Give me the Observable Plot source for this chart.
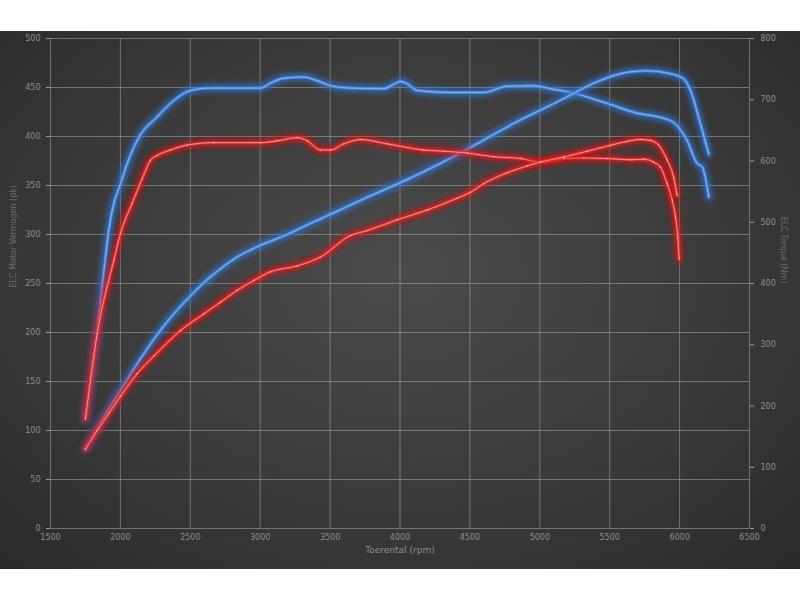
<!DOCTYPE html>
<html><head><meta charset="utf-8">
<script src="https://cdn.jsdelivr.net/npm/d3@7"></script>
<script src="https://cdn.jsdelivr.net/npm/@observablehq/plot@0.6"></script>
<style>
body{margin:0;background:#fff;width:800px;height:600px;overflow:hidden;font-family:"DejaVu Sans",sans-serif}
#wrap{position:absolute;top:31px;left:0;width:800px;height:538px;background:radial-gradient(ellipse 70% 75% at 50% 45%, #4b4b4b 0%, #3b3b3b 55%, #2b2b2b 100%)}
</style></head><body><div id="wrap"></div>
<script>
// Blue torque curve, Nm (right axis)
const blueTorqueRpm = [1750,1834,1893,1917,1941,2001,2072,2144,2263,2358,2501,2645,3002,3073,3167,3310,3408,3503,3646,3882,3954,4004,4052,4123,4361,4597,4767,4955,5077,5220,5482,5697,5865,5957,6054,6126,6162,6209];
const blueTorqueNm  = [179,323,443,487,519,563,610,643,672,694,715,719,719,727,735,737,731,723,719,718,725,730,726,715,712,712,722,723,718,712,694,678,671,663,633,596,590,541];
// Blue power curve, pk (left axis)
const bluePowerRpm = [1750,1900,2001,2120,2239,2358,2478,2597,2716,2835,3002,3193,3310,3524,3765,4004,4240,4481,4719,4862,5005,5148,5268,5411,5527,5650,5768,5935,6028,6078,6149,6209];
const bluePowerPk  = [81,118,141,168,193,215,234,251,265,277,289,300,308,322,338,353,369,387,406,417,427,437,446,456,462,466,467,464,459,447,413,382];
// Red torque curve, Nm (right axis)
const redTorqueRpm = [1750,1834,1953,2001,2084,2156,2215,2263,2358,2478,2668,3002,3122,3265,3336,3431,3503,3598,3717,3908,4170,4313,4481,4671,4862,5005,5172,5315,5482,5649,5744,5815,5863,5911,5947,5971,5987,5997];
const redTorqueNm  = [179,318,438,482,531,571,601,609,618,626,630,630,633,638,633,618,618,628,635,628,618,616,613,607,604,598,604,605,604,602,603,598,590,563,536,508,476,440];
// Red power curve, pk (left axis)
const redPowerRpm = [1750,1834,1920,2001,2120,2239,2430,2597,2716,2835,2954,3074,3265,3431,3646,3765,3980,4195,4409,4504,4600,4767,4910,5005,5172,5339,5506,5625,5720,5792,5851,5911,5958,5982];
const redPowerPk  = [81,100,118,135,158,176,202,219,231,243,253,262,268,277,299,304,315,325,337,343,352,363,370,374,379,385,391,395,397,396,391,376,358,340];

const xTicks = [1500,2000,2500,3000,3500,4000,4500,5000,5500,6000,6500];
const leftTicks = [0,50,100,150,200,250,300,350,400,450,500];
const rightTicks = [0,100,200,300,400,500,600,700,800];

const k = 500 / 800; // right-axis (Nm) to left-axis (pk) domain
const rows = (xs, ys, f) => xs.map((x, i) => ({rpm: x, y: ys[i] * f}));
const blueTorque = rows(blueTorqueRpm, blueTorqueNm, k);
const bluePower = rows(bluePowerRpm, bluePowerPk, 1);
const redTorque = rows(redTorqueRpm, redTorqueNm, k);
const redPower = rows(redPowerRpm, redPowerPk, 1);

function glowLines(data, glow, mid, core) {
  return [
    Plot.line(data, {x: "rpm", y: "y", curve: "monotone-x", stroke: glow, strokeWidth: 8, strokeOpacity: 0.7}),
    Plot.line(data, {x: "rpm", y: "y", curve: "monotone-x", stroke: mid, strokeWidth: 3, strokeOpacity: 0.85}),
    Plot.line(data, {x: "rpm", y: "y", curve: "monotone-x", stroke: core, strokeWidth: 1, strokeOpacity: 0.85})
  ];
}

const chart = Plot.plot({
  width: 800, height: 538,
  marginTop: 7, marginBottom: 41, marginLeft: 50, marginRight: 51,
  style: {background: "transparent", color: "#8e8e8e", fontSize: "8px", fontFamily: "DejaVu Sans, sans-serif"},
  x: {domain: [1500, 6500]},
  y: {domain: [0, 500]},
  marks: [
    Plot.gridX(xTicks, {stroke: "#a8a8a8", strokeOpacity: 0.55}),
    Plot.gridY(leftTicks, {stroke: "#a8a8a8", strokeOpacity: 0.55}),
    Plot.axisY(leftTicks, {anchor: "left", tickSize: 4, tickPadding: 6, label: null, stroke: "#a0a0a0"}),
    Plot.axisY(rightTicks.map(v => v * k), {anchor: "right", tickSize: 4, tickPadding: 7, label: null, stroke: "#a0a0a0", tickFormat: v => String(Math.round(v / k))}),
    Plot.axisX(xTicks, {anchor: "bottom", tickSize: 0, tickPadding: 6, label: null, tickFormat: d3.format("d")}),
    ...glowLines(blueTorque, "#2e74d6", "#4a8ee2", "#8cbaf2"),
    ...glowLines(bluePower, "#2e74d6", "#4a8ee2", "#8cbaf2"),
    ...glowLines(redTorque, "#e01010", "#e83030", "#ffa0a0"),
    ...glowLines(redPower, "#e01010", "#e83030", "#ffa0a0"),
    Plot.dot(redTorque, {x: "rpm", y: "y", r: 0.8, fill: "#ffd0d0", fillOpacity: 0.7}),
    Plot.dot(redPower, {x: "rpm", y: "y", r: 0.8, fill: "#ffd0d0", fillOpacity: 0.7}),
    Plot.text(["Toerental (rpm)"], {frameAnchor: "bottom", dy: 24, fontSize: 9, fill: "#8e8e8e"}),
    Plot.text(["ELC Motor Vermogen (pk)"], {frameAnchor: "left", dx: -37, dy: 4, rotate: -90, fontSize: 8, fill: "#6e6e6e"}),
    Plot.text(["ELC Torque (Nm)"], {frameAnchor: "right", dx: 34, dy: 0, rotate: 90, fontSize: 8, fill: "#6e6e6e"})
  ]
});

const svg = d3.select(chart);
const defs = svg.insert("defs", ":first-child");
const f = defs.append("filter").attr("id", "glowblur").attr("filterUnits", "userSpaceOnUse")
  .attr("x", 0).attr("y", 0).attr("width", 800).attr("height", 538);
f.append("feGaussianBlur").attr("stdDeviation", 2.4);
svg.selectAll("g").filter(function() { return this.getAttribute("stroke-width") === "8"; })
  .attr("filter", "url(#glowblur)");
document.getElementById("wrap").appendChild(chart);
</script>
</body></html>
